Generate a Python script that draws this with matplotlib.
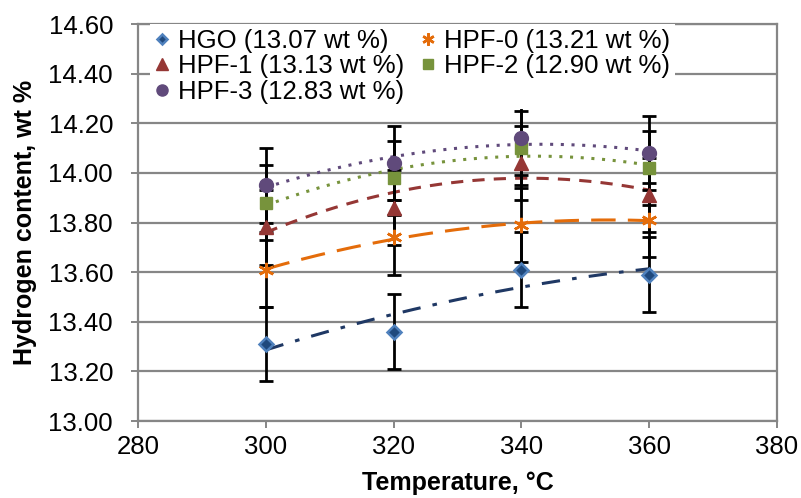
import numpy as np
import matplotlib.pyplot as plt

plt.rcParams['font.family'] = ['Liberation Sans', 'DejaVu Sans']

# temperatures and hydrogen content of each product (wt %)
temps = [300, 320, 340, 360]
hgo = [13.31, 13.36, 13.61, 13.59]
hpf0 = [13.61, 13.74, 13.79, 13.81]
hpf1 = [13.78, 13.86, 14.04, 13.91]
hpf2 = [13.88, 13.98, 14.10, 14.02]
hpf3 = [13.95, 14.04, 14.14, 14.08]
err = 0.15

labels = ['HGO (13.07 wt %)', 'HPF-0 (13.21 wt %)', 'HPF-1 (13.13 wt %)',
          'HPF-2 (12.90 wt %)', 'HPF-3 (12.83 wt %)']

styles = [
    dict(marker='D', ms=7, mfc='#1F497D', mec='#4F81BD', mew=1.8, lc='#1F3864', ls=(0, (6, 4, 1.5, 4)), lw=2.2),
    dict(marker=(6, 2, 0), ms=11, mfc='#E46C0A', mec='#E46C0A', mew=1.8, lc='#E46C0A', ls=(0, (8, 4)), lw=2.2),
    dict(marker='^', ms=10, mfc='#953735', mec='#953735', mew=1, lc='#953735', ls=(0, (4, 3)), lw=2.2),
    dict(marker='s', ms=9, mfc='#77933C', mec='#77933C', mew=1, lc='#77933C', ls=(0, (1, 2.5)), lw=2.2),
    dict(marker='o', ms=10, mfc='#604A7B', mec='#604A7B', mew=1, lc='#604A7B', ls=(0, (1, 2.5)), lw=2.2),
]

fig = plt.figure(figsize=(8.01, 4.98), dpi=100)
ax = fig.add_axes([0.1723, 0.1546, 0.7977, 0.7972])

xs = np.linspace(300, 360, 200)
handles = []
for y, lab, st in zip([hgo, hpf0, hpf1, hpf2, hpf3], labels, styles):
    # second order trendline through each series
    c = np.polyfit(temps, y, 2)
    ax.plot(xs, np.polyval(c, xs), color=st['lc'], ls=st['ls'], lw=st['lw'], zorder=2)
    ax.errorbar(temps, y, yerr=err, fmt='none', ecolor='black', elinewidth=2,
                capsize=5, capthick=2, zorder=3)
    h, = ax.plot(temps, y, linestyle='none', marker=st['marker'], ms=st['ms'],
                 mfc=st['mfc'], mec=st['mec'], mew=st['mew'], label=lab, zorder=4)
    handles.append(h)

ax.set_xlim(280, 380)
ax.set_ylim(13.0, 14.6)
ax.set_xticks(np.arange(280, 381, 20))
ax.set_yticks(np.arange(13.0, 14.61, 0.2))
ax.set_yticklabels([f'{v:.2f}' for v in np.arange(13.0, 14.61, 0.2)])
ax.tick_params(labelsize=18.5, labelcolor='black', color='#868686', length=5, width=1.4, pad=5)
ax.tick_params(axis='y', pad=13)
ax.grid(axis='y', color='#868686', lw=1.6)
ax.set_axisbelow(True)
for s in ax.spines.values():
    s.set_color('#868686')
    s.set_linewidth(1.6)

ax.set_xlabel('Temperature, °C', fontsize=18, fontweight='bold', labelpad=9)
ax.set_ylabel('Hydrogen content, wt %', fontsize=18, fontweight='bold', labelpad=8)

# legend filled row by row: HGO, HPF-0 / HPF-1, HPF-2 / HPF-3
order = [0, 2, 4, 1, 3]
leg = ax.legend([handles[i] for i in order], [labels[i] for i in order],
                ncol=2, loc='upper left', bbox_to_anchor=(0.018, 1.0), fontsize=18.5,
                frameon=True, framealpha=1, edgecolor='none', fancybox=False,
                handlelength=0.6, handletextpad=0.3, columnspacing=0.65,
                labelspacing=0.05, borderpad=0.2, borderaxespad=0, markerscale=0.8)
leg.get_frame().set_facecolor('white')

fig.savefig('out.png', dpi=100)
